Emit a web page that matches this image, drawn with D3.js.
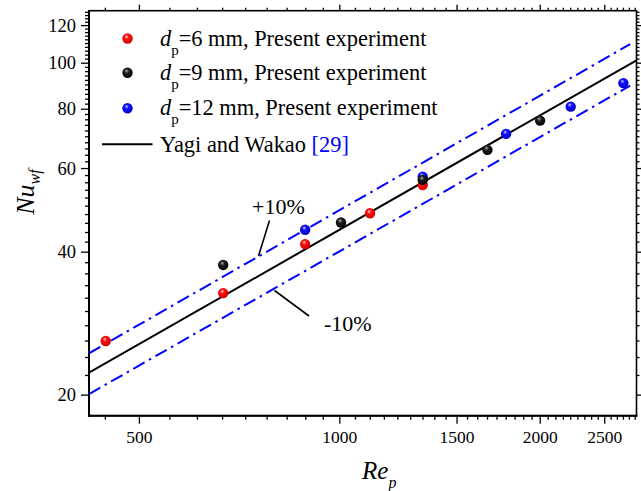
<!DOCTYPE html>
<html>
<head>
<meta charset="utf-8">
<script src="https://cdn.jsdelivr.net/npm/d3@7"></script>
<style>
  html, body { margin: 0; padding: 0; background: #fff; }
  svg { display: block; font-family: "Liberation Serif", "Times New Roman", serif; }
</style>
</head>
<body>
<svg id="chart" width="641" height="491"></svg>
<script>
// Wall Nusselt number vs particle Reynolds number (log-log)
const re6  = [445, 668, 887, 1110, 1332];
const nu6  = [26.0, 32.8, 41.6, 48.3, 55.4];
const re9  = [668, 1004, 1332, 1666, 1999];
const nu9  = [37.6, 46.2, 56.8, 65.7, 75.7];
const re12 = [887, 1332, 1777, 2222, 2666];
const nu12 = [44.6, 57.7, 71.0, 81.0, 90.8];

// Yagi and Wakao correlation and its ±10% band (end points)
const fitRe  = [420, 2790];
const fitNu  = [22.3, 101.4];
const bandRe = [420, 2730];
const bandUp = [24.5, 109.7];
const bandLo = [20.1, 89.7];

const xTicks = [500, 1000, 1500, 2000, 2500];
const yTicks = [20, 40, 60, 80, 100, 120];

const svg = d3.select("#chart");
const L = 89, R = 636.5, T = 10.7, B = 415.7;

const x = d3.scaleLog().domain([420, 2790]).range([L, R]);
const y = d3.scaleLog().domain([18.1, 129]).range([B, T]);

// minor ticks: 8 per major interval on x, 9 per interval on y
const xMinor = d3.range(-2, 50).map(k => 500 + k * 500 / 9)
  .filter(v => v > 420 && v < 2790 && !xTicks.some(t => Math.abs(t - v) < 1e-6));
const yMinor = d3.range(20, 129, 2).filter(v => v % 20 !== 0);

const defs = svg.append("defs");
function sphere(id, hi, mid, lo) {
  const g = defs.append("radialGradient").attr("id", id)
    .attr("cx", "45%").attr("cy", "40%").attr("r", "60%")
    .attr("fx", "40%").attr("fy", "32%");
  g.append("stop").attr("offset", "0%").attr("stop-color", hi);
  g.append("stop").attr("offset", "35%").attr("stop-color", mid);
  g.append("stop").attr("offset", "100%").attr("stop-color", lo);
}
sphere("gRed", "#ffd0d0", "#ff1010", "#d00000");
sphere("gBlack", "#b0b0b0", "#202020", "#000000");
sphere("gBlue", "#c8c8ff", "#1010ff", "#0000c8");

// frame
svg.append("rect").attr("x", L).attr("y", T).attr("width", R - L).attr("height", B - T)
  .attr("fill", "none").attr("stroke", "#000").attr("stroke-width", 1.6);
svg.append("line").attr("x1", L).attr("x2", L).attr("y1", T).attr("y2", B + 1)
  .attr("stroke", "#000").attr("stroke-width", 2);
svg.append("line").attr("x1", L - 1).attr("x2", R + 1).attr("y1", B).attr("y2", B)
  .attr("stroke", "#000").attr("stroke-width", 2);

// axes (bottom / left with labels, top / right mirrored)
const axisG = svg.append("g").attr("stroke", "#000").attr("stroke-width", 1.3);
function ticksX(vals, yy, len) {
  axisG.selectAll(null).data(vals).enter().append("line")
    .attr("x1", d => x(d)).attr("x2", d => x(d)).attr("y1", yy).attr("y2", yy + len);
}
function ticksY(vals, xx, len) {
  axisG.selectAll(null).data(vals).enter().append("line")
    .attr("y1", d => y(d)).attr("y2", d => y(d)).attr("x1", xx).attr("x2", xx + len);
}
ticksX(xTicks, B, 8); ticksX(xMinor, B, 4);
ticksX(xTicks, T, -6); ticksX(xMinor, T, -3);
ticksY(yTicks, L, -8); ticksY(yMinor, L, -4);
ticksY(yTicks, R, 6); ticksY(yMinor, R, 3);

svg.append("g").selectAll("text").data(xTicks).enter().append("text")
  .attr("x", d => x(d)).attr("y", 443).attr("text-anchor", "middle")
  .attr("font-size", 17.5).text(d => d);
svg.append("g").selectAll("text").data(yTicks).enter().append("text")
  .attr("x", 76).attr("y", d => y(d) + 6).attr("text-anchor", "end")
  .attr("font-size", 18.5).text(d => d);

// axis titles
const yt = svg.append("text").attr("transform", "translate(34,192) rotate(-90)")
  .attr("text-anchor", "middle").attr("font-size", 26).attr("font-style", "italic");
yt.append("tspan").text("Nu");
yt.append("tspan").attr("font-size", 16).attr("dy", 6).text("wf");

const xt = svg.append("text").attr("x", 362).attr("y", 479)
  .attr("font-size", 25).attr("font-style", "italic");
xt.append("tspan").text("Re");
xt.append("tspan").attr("font-size", 16).attr("dy", 9).text("p");

// lines
const clip = defs.append("clipPath").attr("id", "plotClip");
clip.append("rect").attr("x", L).attr("y", T).attr("width", R - L).attr("height", B - T);
const plot = svg.append("g").attr("clip-path", "url(#plotClip)");

const line = d3.line().x(d => x(d[0])).y(d => y(d[1]));
const dashDot = "13,5,2.5,5";
plot.append("path").datum(d3.zip(bandRe, bandUp)).attr("d", line)
  .attr("fill", "none").attr("stroke", "#0000ff").attr("stroke-width", 2)
  .attr("stroke-dasharray", dashDot);
plot.append("path").datum(d3.zip(bandRe, bandLo)).attr("d", line)
  .attr("fill", "none").attr("stroke", "#0000ff").attr("stroke-width", 2)
  .attr("stroke-dasharray", dashDot);
plot.append("path").datum(d3.zip(fitRe, fitNu)).attr("d", line)
  .attr("fill", "none").attr("stroke", "#000").attr("stroke-width", 2);

// points
function points(res, nus, fill) {
  plot.append("g").selectAll("circle").data(d3.zip(res, nus)).enter().append("circle")
    .attr("cx", d => x(d[0])).attr("cy", d => y(d[1])).attr("r", 5.2)
    .attr("fill", `url(#${fill})`);
}
points(re6, nu6, "gRed");
points(re12, nu12, "gBlue");
points(re9, nu9, "gBlack");

// ±10% annotations
svg.append("line").attr("x1", 269.5).attr("y1", 220.5).attr("x2", 258.5).attr("y2", 256)
  .attr("stroke", "#000").attr("stroke-width", 1.6);
svg.append("text").attr("x", 252).attr("y", 214).attr("font-size", 22).text("+10%");
svg.append("line").attr("x1", 274.5).attr("y1", 290.5).attr("x2", 309).attr("y2", 316)
  .attr("stroke", "#000").attr("stroke-width", 1.6);
svg.append("text").attr("x", 324).attr("y", 331).attr("font-size", 22).text("-10%");

// legend
const legend = svg.append("g");
const legRows = [
  { fill: "gRed", label: "=6 mm, Present experiment", cy: 38.5 },
  { fill: "gBlack", label: "=9 mm, Present experiment", cy: 72.7 },
  { fill: "gBlue", label: "=12 mm, Present experiment", cy: 108.3 }
];
legRows.forEach(r => {
  legend.append("circle").attr("cx", 127.5).attr("cy", r.cy).attr("r", 5.2)
    .attr("fill", `url(#${r.fill})`);
  const t = legend.append("text").attr("x", 160).attr("y", r.cy + 7).attr("font-size", 22.4);
  t.append("tspan").attr("font-style", "italic").text("d");
  t.append("tspan").attr("font-size", 15).attr("dy", 9).text("p");
  t.append("tspan").attr("dy", -9).text(r.label);
});
legend.append("line").attr("x1", 102).attr("x2", 152.5).attr("y1", 144.3).attr("y2", 144.3)
  .attr("stroke", "#000").attr("stroke-width", 2);
const yw = legend.append("text").attr("x", 160).attr("y", 151.5).attr("font-size", 22.4);
yw.append("tspan").text("Yagi and Wakao ");
yw.append("tspan").attr("fill", "#0000ff").text("[29]");
</script>
</body>
</html>
